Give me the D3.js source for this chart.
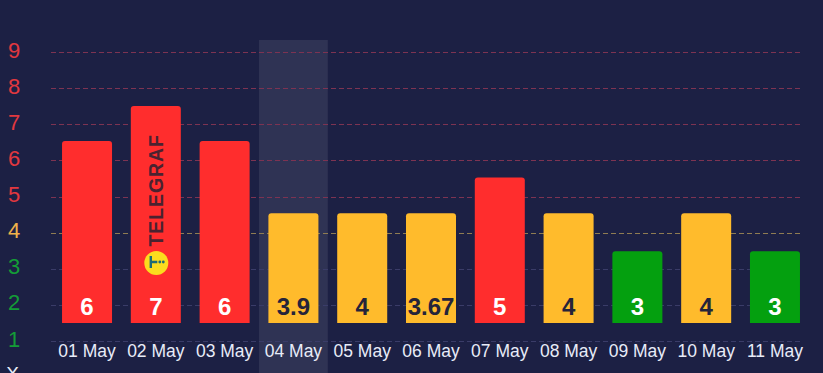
<!DOCTYPE html>
<html>
<head>
<meta charset="utf-8">
<style>
html, body { margin: 0; padding: 0; background: #1c2044; overflow: hidden; }
text { font-family: "Liberation Sans", Arial, sans-serif; }
</style>
<script src="https://cdn.jsdelivr.net/npm/d3@7"></script>
</head>
<body>
<script>
var days = ["01 May", "02 May", "03 May", "04 May", "05 May", "06 May", "07 May", "08 May", "09 May", "10 May", "11 May"];
// bar tops sit on the scale by risk level, the printed value is separate
var barLevels = [6.55, 7.52, 6.55, 4.55, 4.55, 4.55, 5.54, 4.55, 3.5, 4.55, 3.5];
var barLabels = ["6", "7", "6", "3.9", "4", "3.67", "5", "4", "3", "4", "3"];
var yTicks = [1, 2, 3, 4, 5, 6, 7, 8, 9];
var hoverDay = "04 May";

var width = 823;
var height = 373;
var barBase = 1.51;

function levelColor(v) {
    if (v >= 5) return "#ff2d2d";
    if (v >= 3.6) return "#ffbb2c";
    return "#04a00f";
}
function tickColor(v) {
    if (v >= 5) return "#e2383f";
    if (v >= 4) return "#f0b24a";
    return "#149c37";
}

var svg = d3.select("body").append("svg")
    .attr("width", width)
    .attr("height", height)
    .style("display", "block");

var x = d3.scaleBand().domain(days).range([52.6, 809.4]).paddingInner(0.273).paddingOuter(0.137);
var y = d3.scaleLinear().domain([1, 9]).range([341.5, 52.5]);

// hovered column
var step = x.step();
svg.append("rect")
    .attr("x", x(hoverDay) + x.bandwidth() / 2 - step / 2)
    .attr("y", 40)
    .attr("width", step)
    .attr("height", height - 40)
    .attr("fill", "#ffffff")
    .attr("fill-opacity", 0.085);

// grid
svg.selectAll(".grid")
    .data(yTicks)
    .enter()
    .append("line")
    .attr("class", "grid")
    .attr("x1", 51)
    .attr("x2", 803)
    .attr("y1", function(d) { return Math.floor(y(d)) + 0.5; })
    .attr("y2", function(d) { return Math.floor(y(d)) + 0.5; })
    .attr("stroke", function(d) {
        if (d >= 5) return "#7d3352";
        if (d == 4) return "#8f7c52";
        return "#3a3c68";
    })
    .attr("stroke-dasharray", "5,3");

// y axis numbers
var yAxisG = svg.append("g")
    .attr("transform", "translate(8,-2.5)")
    .call(d3.axisLeft(y).tickValues(yTicks).tickSize(0).tickPadding(0));
yAxisG.select(".domain").remove();
yAxisG.selectAll("text")
    .attr("x", 0)
    .attr("text-anchor", "start")
    .attr("font-size", "22px")
    .attr("font-family", null)
    .attr("fill", function(d) { return tickColor(d); });

// x axis
var xAxisG = svg.append("g")
    .attr("transform", "translate(0,343)")
    .call(d3.axisBottom(x).tickSize(0).tickPadding(2));
xAxisG.select(".domain").remove();
xAxisG.selectAll("text")
    .attr("font-size", "17.5px")
    .attr("font-family", null)
    .attr("fill", "#e8ecf8");

// bars, rounded on top only
function barPath(d, i) {
    var x0 = x(days[i]);
    var x1 = x0 + x.bandwidth();
    var top = y(d);
    var bottom = y(barBase);
    var r = 3;
    return "M" + x0 + "," + bottom + "V" + (top + r) + "Q" + x0 + "," + top + " " + (x0 + r) + "," + top +
        "H" + (x1 - r) + "Q" + x1 + "," + top + " " + x1 + "," + (top + r) + "V" + bottom + "Z";
}
svg.selectAll(".bar")
    .data(barLevels)
    .enter()
    .append("path")
    .attr("class", "bar")
    .attr("d", barPath)
    .attr("fill", function(d) { return levelColor(d); });

// values inside bars
svg.selectAll(".barLabel")
    .data(barLabels)
    .enter()
    .append("text")
    .attr("class", "barLabel")
    .attr("x", function(d, i) { return x(days[i]) + x.bandwidth() / 2; })
    .attr("y", 315)
    .attr("text-anchor", "middle")
    .attr("font-size", "24px")
    .attr("font-weight", "bold")
    .attr("fill", function(d, i) {
        return barLevels[i] >= 4 && barLevels[i] < 5 ? "#25243a" : "#ffffff";
    })
    .text(function(d) { return d; });

// watermark
var mark = svg.append("g").attr("transform", "translate(156.3,263)");
mark.append("circle").attr("r", 12).attr("fill", "#fbdc1e");
mark.append("path").attr("d", "M-5.5,-7V5M-5.5,-1H1").attr("stroke", "#1f6a76").attr("stroke-width", 2.4).attr("fill", "none");
mark.append("circle").attr("cx", 3.5).attr("cy", -1).attr("r", 1.4).attr("fill", "#1f6a76");
mark.append("circle").attr("cx", 7).attr("cy", -1).attr("r", 1.4).attr("fill", "#1f6a76");
svg.append("text")
    .attr("transform", "translate(163.3,246.5) rotate(-90)")
    .attr("font-size", "19.5px")
    .attr("font-weight", "bold")
    .attr("letter-spacing", "0.9px")
    .attr("fill", "#4a2230")
    .text("TELEGRAF");

// cut off mark under the axis numbers, the reference clips it too
svg.append("text")
    .attr("x", 12.5)
    .attr("y", 379.5)
    .attr("text-anchor", "middle")
    .attr("font-size", "19px")
    .attr("fill", "#e8ecf8")
    .text("X");
</script>
</body>
</html>
